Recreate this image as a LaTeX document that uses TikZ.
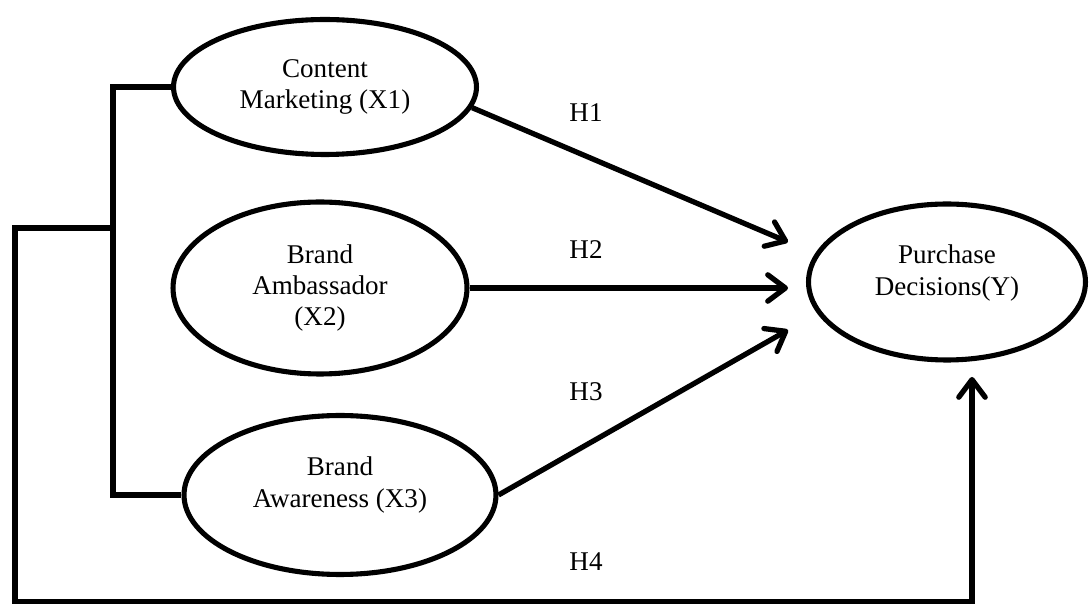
\documentclass[tikz,border=0pt]{standalone}
\usepackage{fontspec}
\setmainfont{Liberation Serif}
\usepackage{tikz}
\usetikzlibrary{arrows.meta,shapes.geometric}

\tikzset{
  latent/.style={draw,ellipse,line width=2.9pt,inner sep=0pt,align=center,
    font=\fontsize{15.4pt}{17.8pt}\selectfont},
  lbl/.style={align=center,font=\fontsize{15.4pt}{17.8pt}\selectfont},
  link/.style={line width=3pt},
  hyp/.style={line width=3pt,-{Straight Barb[length=10pt,width=15pt,round]}},
  hlabel/.style={font=\fontsize{15.4pt}{17.8pt}\selectfont}
}

\begin{document}
\begin{tikzpicture}[x=0.02cm,y=-0.02cm]
  \useasboundingbox (0,0) rectangle (1090,604);

  % exogenous constructs
  \draw (325,87) node[latent,minimum width=6.06cm,minimum height=2.7cm] (cm) {Content\\Marketing (X1)};
  \draw (320,288) node[latent,minimum width=5.88cm,minimum height=3.44cm] (ba) {Brand\\Ambassador\\(X2)};
  \draw (340,495) node[latent,minimum width=6.24cm,minimum height=3.18cm,
    label={[lbl,yshift=0.2cm]center:Brand\\Awareness (X3)}] (bw) {};

  % endogenous construct
  \draw (947,282) node[latent,minimum width=5.54cm,minimum height=3.12cm,
    label={[lbl,yshift=0.18cm]center:Purchase\\Decisions(Y)}] (pd) {};

  \coordinate (t1) at (788,242);
  \coordinate (t2) at (788,288);
  \coordinate (t3) at (788,330);
  \coordinate (t4) at (972,377);
  \coordinate (jl) at (113,228);
  \coordinate (jb) at (15,602);

  \path[hyp] (cm.-8) edge (t1);
  \path[hyp] (ba.east) edge (t2);
  \path[hyp] (bw.east) edge (t3);

  % simultaneous effect
  \draw[link] (cm.west) -| (jl) |- (bw.west);
  \draw[hyp] (jl) -| (jb) -| (t4);

  \draw (586,113) node[hlabel] (h1) {H1};
  \draw (586,250) node[hlabel] (h2) {H2};
  \draw (586,392) node[hlabel] (h3) {H3};
  \draw (586,562) node[hlabel] (h4) {H4};
\end{tikzpicture}
\end{document}
